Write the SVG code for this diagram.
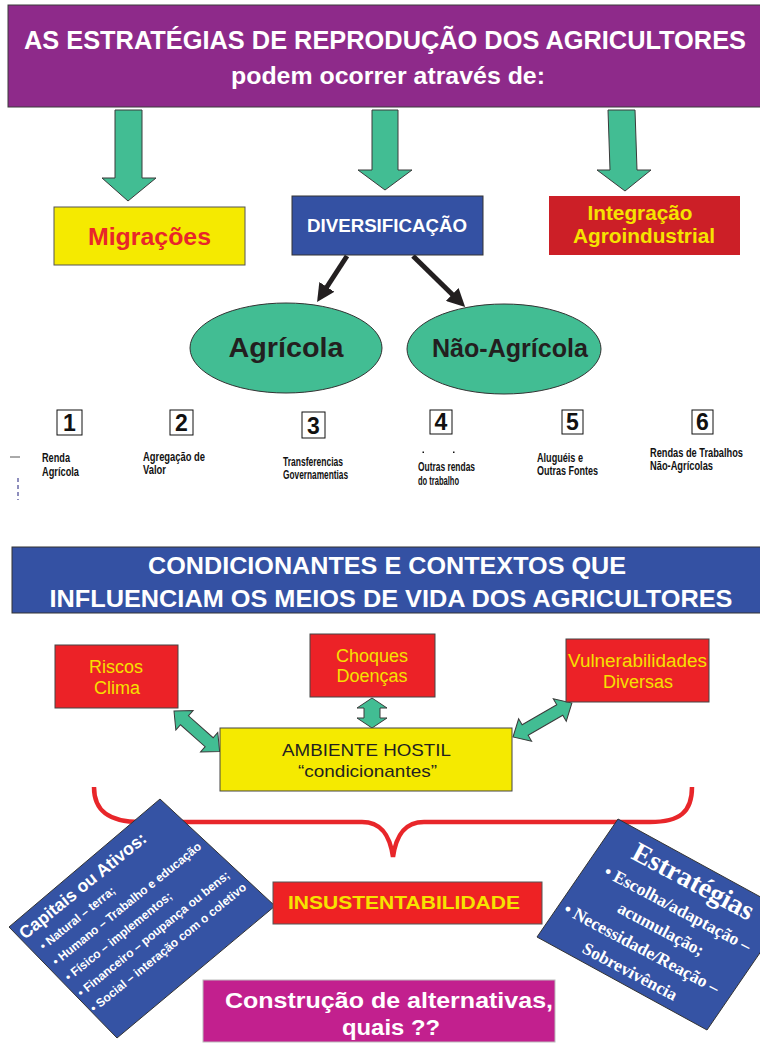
<svg xmlns="http://www.w3.org/2000/svg" width="760" height="1046" viewBox="0 0 760 1046">
<defs>
<style>
.sans{font-family:"Liberation Sans",Arial,sans-serif}
.serif{font-family:"Liberation Serif","Times New Roman",serif}
.b{font-weight:bold}
.w{fill:#ffffff}
.ylw{fill:#f6e300}
.dk{fill:#231f20}
.garrow{fill:#42bd93;stroke:#3a3a3a;stroke-width:1}
.lbl{font-family:"Liberation Sans",Arial,sans-serif;font-weight:bold;font-size:12px;fill:#111}
.num{font-family:"Liberation Sans",Arial,sans-serif;font-weight:bold;font-size:23px;fill:#111;text-anchor:middle}
.nbox{fill:#fff;stroke:#111;stroke-width:1}
.redbox{fill:#ec2227;stroke:#444;stroke-width:1}
.rtx{font-family:"Liberation Sans",Arial,sans-serif;font-size:18px;fill:#f6e000;text-anchor:middle}
</style>
<marker id="blk" viewBox="0 0 10 10" refX="6" refY="5" markerWidth="18" markerHeight="18" markerUnits="userSpaceOnUse" orient="auto">
<path d="M0,0 L10,5 L0,10 z" fill="#231f20"/>
</marker>
</defs>
<rect width="760" height="1046" fill="#ffffff"/>

<g id="title">
<rect x="8" y="5" width="760" height="102" fill="#8e2a8a" stroke="#3a3a3a" stroke-width="1"/>
<text class="sans b w" x="385" y="49" font-size="25" text-anchor="middle" textLength="722" lengthAdjust="spacingAndGlyphs">AS ESTRATÉGIAS DE REPRODUÇÃO DOS AGRICULTORES</text>
<text class="sans b w" x="388" y="84" font-size="23" text-anchor="middle" textLength="314" lengthAdjust="spacingAndGlyphs">podem ocorrer através de:</text>
</g>

<g id="connectors">
<polygon class="garrow" points="115,110 142,110 142,178 156,178 128,201 102,178 115,178"/>
<polygon class="garrow" points="372,110 398,110 398,170 412,170 385,190 358,170 372,170"/>
<polygon class="garrow" points="608,110 635,110 637,170 651,170 625,191 597,170 610,170"/>
<line x1="347" y1="256" x2="321" y2="296" stroke="#231f20" stroke-width="5" marker-end="url(#blk)"/>
<line x1="413" y1="256" x2="460" y2="302" stroke="#231f20" stroke-width="5" marker-end="url(#blk)"/>
<polygon class="garrow" points="372,698 387,708 380,708 380,718 387,718 372,728 357,718 364,718 364,708 357,708"/>
<polygon class="garrow" transform="translate(174,711) rotate(41.6)" points="0,0 14,-13 14,-6 47,-6 47,-13 61,0 47,13 47,6 14,6 14,13"/>
<polygon class="garrow" transform="translate(513,737) rotate(-30)" points="0,0 14,-13 14,-6 54,-6 54,-13 68,0 54,13 54,6 14,6 14,13"/>
<path d="M94,787 C94,812 110,822 140,822 L362,822 C382,822 390,836 393,857 C396,836 404,822 424,822 L650,822 C680,822 692,812 692,787" fill="none" stroke="#e8262a" stroke-width="4.5"/>
</g>

<g id="migracoes">
<rect x="54" y="207" width="191" height="58" fill="#f5ea00" stroke="#555" stroke-width="1"/>
<text class="sans b" x="149.5" y="245" font-size="23" fill="#e8262a" text-anchor="middle" textLength="123" lengthAdjust="spacingAndGlyphs">Migrações</text>
</g>

<g id="diversificacao">
<rect x="292" y="196" width="191" height="59" fill="#3451a3" stroke="#333" stroke-width="1"/>
<text class="sans b w" x="387" y="232" font-size="18" text-anchor="middle" textLength="160" lengthAdjust="spacingAndGlyphs">DIVERSIFICAÇÃO</text>
</g>

<g id="integracao">
<rect x="549" y="196" width="191" height="59" fill="#cc1f27"/>
<text class="sans b ylw" x="640" y="220" font-size="20" text-anchor="middle" textLength="105" lengthAdjust="spacingAndGlyphs">Integração</text>
<text class="sans b ylw" x="644" y="243" font-size="20" text-anchor="middle" textLength="142" lengthAdjust="spacingAndGlyphs">Agroindustrial</text>
</g>

<g id="agricola">
<ellipse cx="286" cy="348" rx="96" ry="45" fill="#42bd93" stroke="#333" stroke-width="1"/>
<text class="sans b dk" x="286" y="357" font-size="27" text-anchor="middle" textLength="115" lengthAdjust="spacingAndGlyphs">Agrícola</text>
</g>

<g id="nao-agricola">
<ellipse cx="504" cy="349" rx="97" ry="45" fill="#42bd93" stroke="#333" stroke-width="1"/>
<text class="sans b dk" x="510" y="357" font-size="25" text-anchor="middle" textLength="156" lengthAdjust="spacingAndGlyphs">Não-Agrícola</text>
</g>

<g id="item1">
<rect class="nbox" x="57" y="410" width="25" height="25"/>
<text class="num" x="69.5" y="431">1</text>
<text class="lbl" x="42" y="462" textLength="28" lengthAdjust="spacingAndGlyphs">Renda</text>
<text class="lbl" x="42" y="476" textLength="37" lengthAdjust="spacingAndGlyphs">Agrícola</text>
</g>
<g id="item2">
<rect class="nbox" x="170" y="410" width="23" height="25"/>
<text class="num" x="181.5" y="431">2</text>
<text class="lbl" x="143" y="461" textLength="62" lengthAdjust="spacingAndGlyphs">Agregação de</text>
<text class="lbl" x="143" y="474" textLength="23" lengthAdjust="spacingAndGlyphs">Valor</text>
</g>
<g id="item3">
<rect class="nbox" x="302" y="412" width="23" height="26"/>
<text class="num" x="313.5" y="434">3</text>
<text class="lbl" x="283" y="466" textLength="60" lengthAdjust="spacingAndGlyphs">Transferencias</text>
<text class="lbl" x="283" y="479" textLength="65" lengthAdjust="spacingAndGlyphs">Governamentias</text>
</g>
<g id="item4">
<rect class="nbox" x="430" y="410" width="22" height="24"/>
<text class="num" x="441" y="430">4</text>
<rect x="422.5" y="451.5" width="1.5" height="1.5" fill="#111"/>
<rect x="453" y="451.5" width="1.5" height="1.5" fill="#111"/>
<text class="lbl" x="418" y="471" textLength="57" lengthAdjust="spacingAndGlyphs">Outras rendas</text>
<text class="lbl" x="418" y="485" textLength="41" lengthAdjust="spacingAndGlyphs">do trabalho</text>
</g>
<g id="item5">
<rect class="nbox" x="562" y="410" width="21" height="24"/>
<text class="num" x="572.5" y="430">5</text>
<text class="lbl" x="537" y="462" textLength="46" lengthAdjust="spacingAndGlyphs">Aluguéis e</text>
<text class="lbl" x="537" y="475" textLength="61" lengthAdjust="spacingAndGlyphs">Outras Fontes</text>
</g>
<g id="item6">
<rect class="nbox" x="692" y="410" width="21" height="24"/>
<text class="num" x="702.5" y="430">6</text>
<text class="lbl" x="650" y="457" textLength="93" lengthAdjust="spacingAndGlyphs">Rendas de Trabalhos</text>
<text class="lbl" x="650" y="470" textLength="63" lengthAdjust="spacingAndGlyphs">Não-Agrícolas</text>
</g>
<line x1="10" y1="457" x2="20" y2="457" stroke="#555" stroke-width="1"/>
<line x1="18" y1="478" x2="18" y2="500" stroke="#6a6aa8" stroke-width="1.5" stroke-dasharray="4 3"/>

<g id="condicionantes">
<rect x="12" y="547" width="760" height="66" fill="#3451a3" stroke="#333" stroke-width="1"/>
<text class="sans b w" x="387" y="574" font-size="24" text-anchor="middle" textLength="478" lengthAdjust="spacingAndGlyphs">CONDICIONANTES E CONTEXTOS QUE</text>
<text class="sans b w" x="391" y="607" font-size="24" text-anchor="middle" textLength="683" lengthAdjust="spacingAndGlyphs">INFLUENCIAM OS MEIOS DE VIDA DOS AGRICULTORES</text>
</g>

<g id="riscos">
<rect class="redbox" x="55" y="645" width="123" height="63"/>
<text class="rtx" x="116" y="673">Riscos</text>
<text class="rtx" x="117" y="694">Clima</text>
</g>
<g id="choques">
<rect class="redbox" x="310" y="634" width="125" height="63"/>
<text class="rtx" x="372" y="662">Choques</text>
<text class="rtx" x="372" y="682">Doenças</text>
</g>
<g id="vulnerabilidades">
<rect class="redbox" x="566" y="639" width="143" height="63"/>
<text class="rtx" x="637.5" y="667" textLength="139" lengthAdjust="spacingAndGlyphs">Vulnerabilidades</text>
<text class="rtx" x="638" y="688">Diversas</text>
</g>

<g id="ambiente">
<rect x="220" y="728" width="292" height="63" fill="#f5ea00" stroke="#444" stroke-width="1"/>
<text class="sans dk" x="366.5" y="756" font-size="17" text-anchor="middle" textLength="169" lengthAdjust="spacingAndGlyphs">AMBIENTE HOSTIL</text>
<text class="sans dk" x="367.5" y="777" font-size="17" text-anchor="middle" textLength="139" lengthAdjust="spacingAndGlyphs">“condicionantes”</text>
</g>

<g id="capitais">
<polygon points="160,799 275,906 117,1038 9,927" fill="#3553a4" stroke="#333" stroke-width="1"/>
<g transform="translate(25,940) rotate(-39)">
<text class="sans b w" x="0" y="0" font-size="17.5" textLength="158" lengthAdjust="spacingAndGlyphs">Capitais ou Ativos:</text>
<text class="sans b w" x="8" y="20" font-size="12">• Natural – terra;</text>
<text class="sans b w" x="8" y="40" font-size="12">• Humano – Trabalho e educação</text>
<text class="sans b w" x="8" y="60" font-size="12">• Físico – implementos;</text>
<text class="sans b w" x="8" y="80" font-size="12">• Financeiro – poupança ou bens;</text>
<text class="sans b w" x="8" y="100" font-size="12">• Social – interação com o coletivo</text>
</g>
</g>

<g id="insustentabilidade">
<rect x="273" y="882" width="269" height="42" fill="#ee2224" stroke="#555" stroke-width="1"/>
<text class="sans b ylw" x="404" y="909" font-size="19" text-anchor="middle" textLength="232" lengthAdjust="spacingAndGlyphs">INSUSTENTABILIDADE</text>
</g>

<g id="estrategias">
<polygon points="618,819 788,912 707,1030 537,937" fill="#3553a4" stroke="#333" stroke-width="1"/>
<g transform="translate(630,858) rotate(28)">
<text class="serif b w" x="0" y="0" font-size="28">Estratégias</text>
<text class="serif b w" x="-16" y="28" font-size="17.5">• Escolha/adaptação –</text>
<text class="serif b w" x="13" y="54" font-size="17.5">acumulação;</text>
<text class="serif b w" x="-34" y="80" font-size="17.5">• Necessidade/Reação –</text>
<text class="serif b w" x="1" y="106" font-size="17.5">Sobrevivência</text>
</g>
</g>

<g id="construcao">
<rect x="203" y="980" width="352" height="62" fill="#c2208e" stroke="#bbb" stroke-width="1"/>
<text class="sans b w" x="389" y="1008" font-size="22" text-anchor="middle" textLength="328" lengthAdjust="spacingAndGlyphs">Construção de alternativas,</text>
<text class="sans b w" x="391" y="1035" font-size="22" text-anchor="middle" textLength="98" lengthAdjust="spacingAndGlyphs">quais ??</text>
</g>
</svg>
